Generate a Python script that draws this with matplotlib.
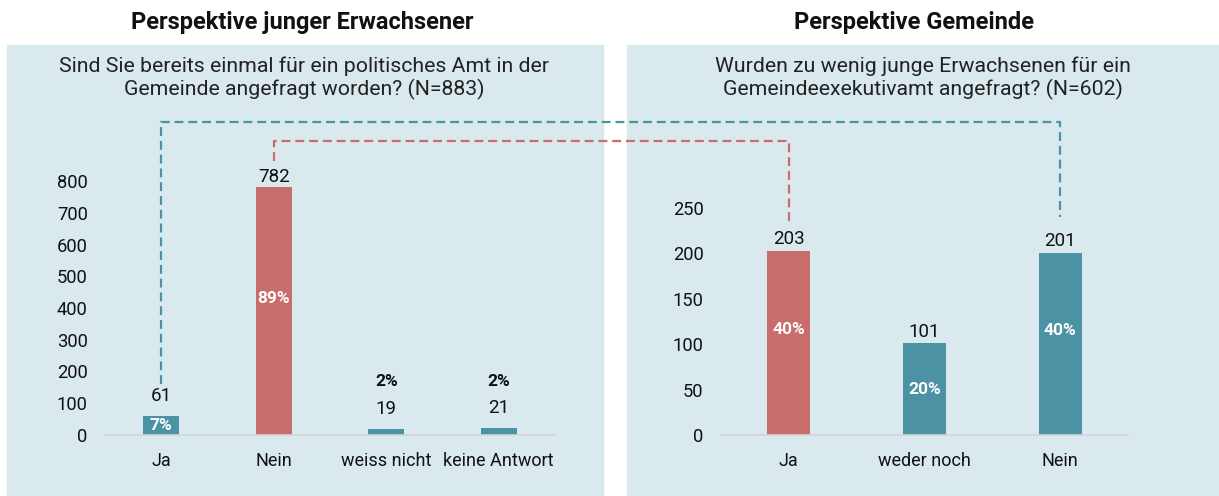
import matplotlib.pyplot as plt
from matplotlib.lines import Line2D
from matplotlib.patches import Rectangle

plt.rcParams["font.family"] = ["Roboto", "DejaVu Sans"]

# left panel: young adults
left_cats = ["Ja", "Nein", "weiss nicht", "keine Antwort"]
left_vals = [61, 782, 19, 21]
left_pct = ["7%", "89%", "2%", "2%"]
left_title = "Perspektive junger Erwachsener"
left_question = "Sind Sie bereits einmal für ein politisches Amt in der\nGemeinde angefragt worden? (N=883)"

# right panel: municipalities
right_cats = ["Ja", "weder noch", "Nein"]
right_vals = [203, 101, 201]
right_pct = ["40%", "20%", "40%"]
right_title = "Perspektive Gemeinde"
right_question = "Wurden zu wenig junge Erwachsenen für ein\nGemeindeexekutivamt angefragt? (N=602)"

TEAL = "#4a92a4"
RED = "#c96c6c"
BG = "#dae9ee"
W, H = 1219, 496

left_colors = [TEAL, RED, TEAL, TEAL]
right_colors = [RED, TEAL, TEAL]

fig = plt.figure(figsize=(W / 100, H / 100), dpi=100)

# panel backgrounds
fig.patches.append(Rectangle((7 / W, 0), 596 / W, 451 / H, transform=fig.transFigure,
                             color=BG, zorder=-5))
fig.patches.append(Rectangle((627 / W, 0), 592 / W, 451 / H, transform=fig.transFigure,
                             color=BG, zorder=-5))

fig.text(302 / W, 1 - 22 / H, left_title, ha="center", va="center", fontsize=17,
         fontweight="bold", color="#111111")
fig.text(914 / W, 1 - 22 / H, right_title, ha="center", va="center", fontsize=17,
         fontweight="bold", color="#111111")
fig.text(304 / W, 1 - 78 / H, left_question, ha="center", va="center", fontsize=15.3,
         color="#222222", linespacing=1.15)
fig.text(923 / W, 1 - 78 / H, right_question, ha="center", va="center", fontsize=15.3,
         color="#222222", linespacing=1.15)

ax_l = fig.add_axes([105 / W, 61 / H, 450 / W, 285.75 / H])
ax_r = fig.add_axes([721 / W, 61 / H, 407 / W, 254.2 / H])


def style(ax, cats, ymax, ticks):
    ax.set_facecolor("none")
    ax.set_xlim(-0.5, len(cats) - 0.5)
    ax.set_ylim(0, ymax)
    ax.set_yticks(ticks)
    ax.set_xticks(range(len(cats)))
    ax.set_xticklabels(cats)
    for s in ["top", "right", "left"]:
        ax.spines[s].set_visible(False)
    ax.spines["bottom"].set_color("#d4d4d4")
    ax.spines["bottom"].set_linewidth(1.2)
    ax.tick_params(axis="y", length=0, pad=12.5, labelsize=13.2, labelcolor="#111111")
    ax.tick_params(axis="x", length=0, pad=12, labelsize=13, labelcolor="#111111")


style(ax_l, left_cats, 900, range(0, 801, 100))
style(ax_r, right_cats, 280, range(0, 251, 50))

ax_l.bar(range(len(left_vals)), left_vals, width=0.32, color=left_colors, zorder=2)
ax_r.bar(range(len(right_vals)), right_vals, width=0.315, color=right_colors, zorder=2)

# value labels and percentage labels
for i, (v, p) in enumerate(zip(left_vals, left_pct)):
    ax_l.annotate(str(v), (i, v), xytext=(0, 0.5 if v > 100 else 8), textcoords="offset points",
                  ha="center", va="bottom", fontsize=13.5, color="#111111")
    if v > 40:
        ax_l.text(i, v * 0.55 if v > 150 else v / 2, p, ha="center", va="center",
                  fontsize=12.5, fontweight="bold", color="white", zorder=3)
    else:
        ax_l.annotate(p, (i, v), xytext=(0, 28.5), textcoords="offset points",
                      ha="center", va="bottom", fontsize=12.5, fontweight="bold",
                      color="#111111")

for i, (v, p) in enumerate(zip(right_vals, right_pct)):
    ax_r.annotate(str(v), (i, v), xytext=(0, 2), textcoords="offset points",
                  ha="center", va="bottom", fontsize=13.5, color="#111111")
    ax_r.text(i, v * 0.57 if v > 150 else v / 2, p, ha="center", va="center",
              fontsize=12.5, fontweight="bold", color="white", zorder=3)


# dashed connectors between the two panels
def connector(ax_a, ia, va, off_a, ax_b, ib, vb, off_b, y_top, color):
    inv = fig.transFigure.inverted()
    xa, ya = ax_a.transData.transform((ia, va))
    xb, yb = ax_b.transData.transform((ib, vb))
    ytop = (1 - y_top / H) * H
    pts = inv.transform([(xa, ya + off_a), (xa, ytop), (xb, ytop), (xb, yb + off_b)])
    fig.add_artist(Line2D(pts[:, 0], pts[:, 1], transform=fig.transFigure, color=color,
                          lw=1.6, dashes=(4, 2.2), zorder=5))


connector(ax_l, 0, left_vals[0], 32, ax_r, 2, right_vals[2], 36, 122, TEAL)
connector(ax_l, 1, left_vals[1], 26, ax_r, 0, right_vals[0], 28, 141, RED)

fig.savefig("out.png", dpi=100)
